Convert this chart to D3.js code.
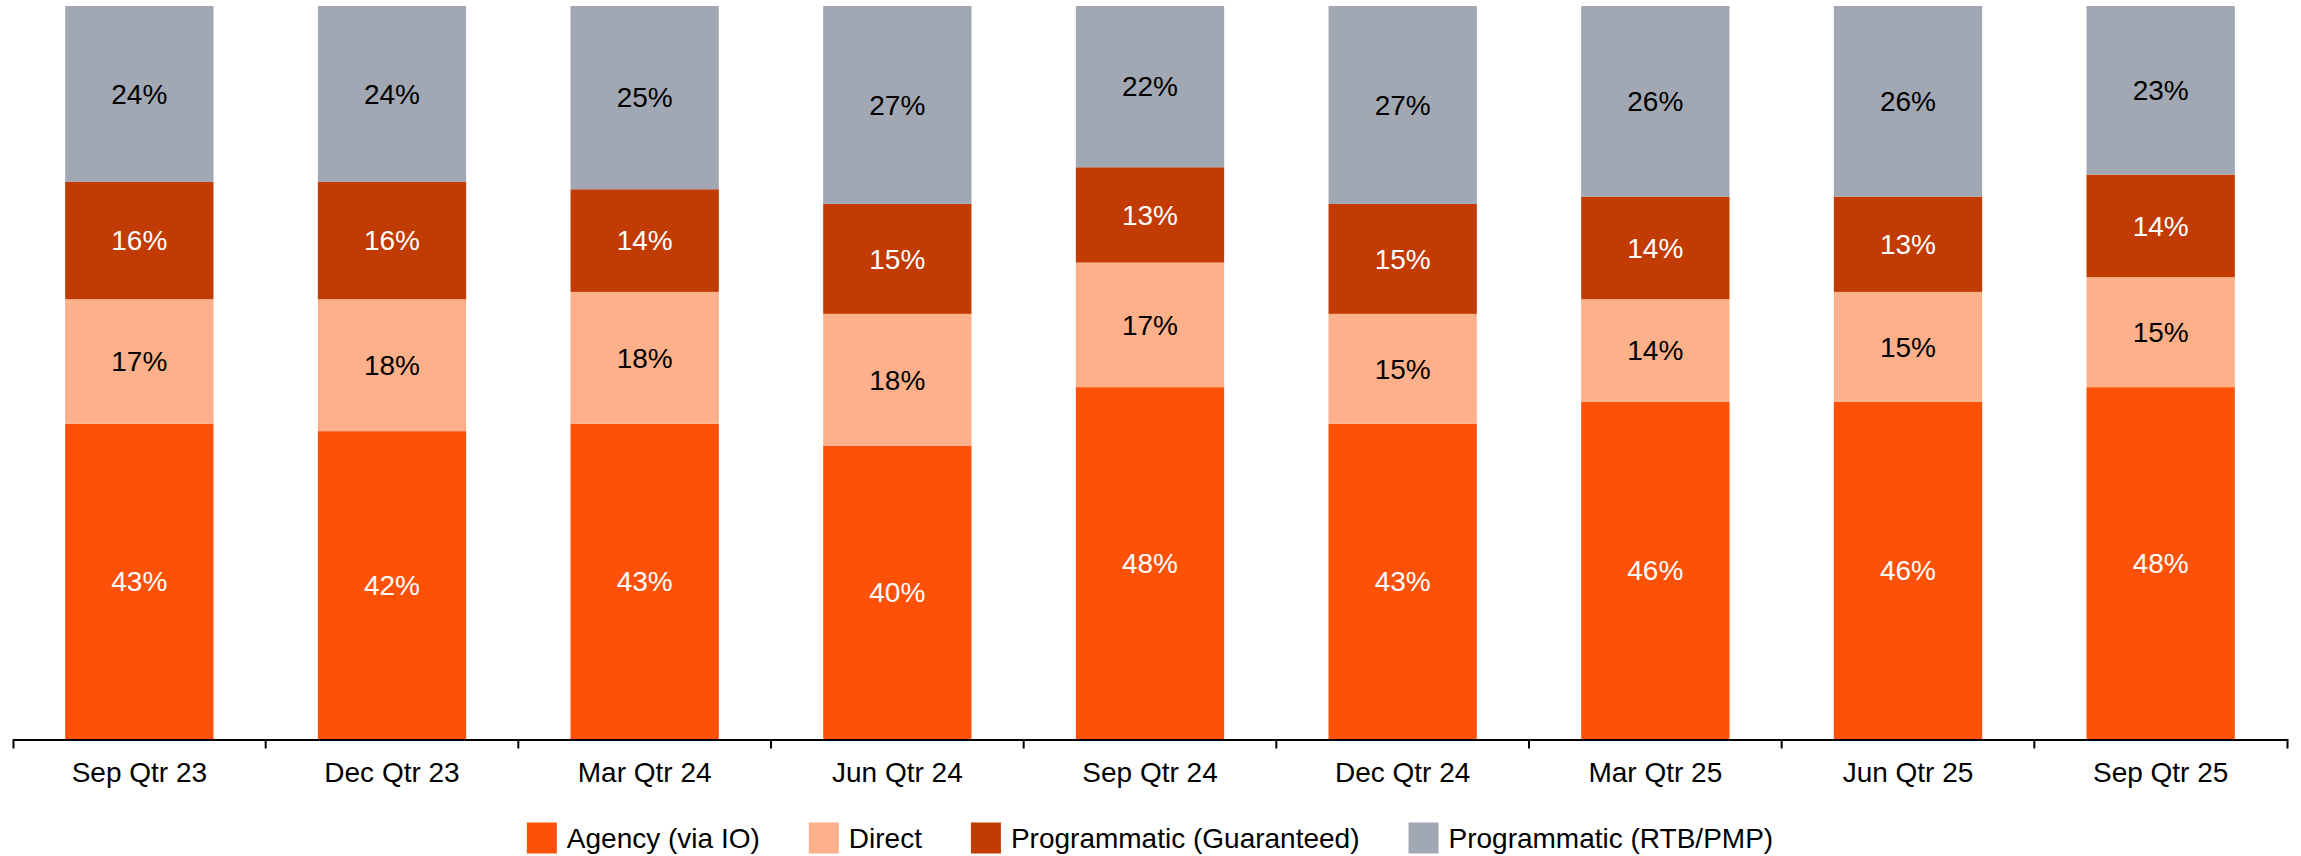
<!DOCTYPE html>
<html>
<head>
<meta charset="utf-8">
<script src="https://cdn.jsdelivr.net/npm/d3@7"></script>
<style>
  html, body { margin: 0; padding: 0; background: #fff; }
  svg { display: block; font-family: "Liberation Sans", Arial, sans-serif; }
</style>
</head>
<body>
<svg id="chart" width="2301" height="856"></svg>
<script>
const categories = ["Sep Qtr 23","Dec Qtr 23","Mar Qtr 24","Jun Qtr 24","Sep Qtr 24","Dec Qtr 24","Mar Qtr 25","Jun Qtr 25","Sep Qtr 25"];
const seriesNames = ["Agency (via IO)","Direct","Programmatic (Guaranteed)","Programmatic (RTB/PMP)"];
const agency     = [43, 42, 43, 40, 48, 43, 46, 46, 48];
const direct     = [17, 18, 18, 18, 17, 15, 14, 15, 15];
const guaranteed = [16, 16, 14, 15, 13, 15, 14, 13, 14];
const rtb        = [24, 24, 25, 27, 22, 27, 26, 26, 23];
const colors     = ["#fd5108", "#feb08a", "#c23b02", "#a1a8b3"];
const labelColors = ["#ffffff", "#000000", "#ffffff", "#000000"];

(function () {
const svg = d3.select("#chart");
const mLeft = 13, mRight = 2287, mTop = 6, mBottom = 739;

const table = categories.map((c, i) => ({
  cat: c,
  [seriesNames[0]]: agency[i],
  [seriesNames[1]]: direct[i],
  [seriesNames[2]]: guaranteed[i],
  [seriesNames[3]]: rtb[i]
}));
const stacked = d3.stack().keys(seriesNames)(table);

const x = d3.scaleBand().domain(categories).range([mLeft, mRight])
  .paddingInner(0.413).paddingOuter(0.2065);
const y = d3.scaleLinear().domain([0, 100]).range([mBottom, mTop]);

const layers = svg.append("g").selectAll("g").data(stacked).join("g")
  .attr("fill", (d, i) => colors[i]);

layers.selectAll("rect").data(d => d).join("rect")
  .attr("x", d => x(d.data.cat))
  .attr("y", d => y(d[1]))
  .attr("width", x.bandwidth())
  .attr("height", d => y(d[0]) - y(d[1]));

layers.each(function(layer, li) {
  d3.select(this).selectAll("text").data(layer).join("text")
    .attr("x", d => x(d.data.cat) + x.bandwidth() / 2)
    .attr("y", d => (y(d[0]) + y(d[1])) / 2)
    .attr("dy", "0.35em")
    .attr("text-anchor", "middle")
    .attr("font-size", 28)
    .attr("fill", labelColors[li])
    .text(d => (d[1] - d[0]) + "%");
});

// Axis
const axis = d3.axisBottom(x).tickSize(0).tickSizeOuter(9).tickPadding(23);
const gx = svg.append("g").attr("transform", `translate(0,${mBottom + 0.5})`).call(axis);
gx.select(".domain").attr("stroke", "#000").attr("stroke-width", 2);
gx.selectAll(".tick text").attr("font-size", 28).attr("fill", "#000")
  .attr("font-family", "Liberation Sans, Arial, sans-serif");
const step = x.step();
gx.selectAll(".btick").data(categories.slice(1)).join("line")
  .attr("class", "btick")
  .attr("x1", d => x(d) - step * x.paddingInner() / 2)
  .attr("x2", d => x(d) - step * x.paddingInner() / 2)
  .attr("y1", 0).attr("y2", 9)
  .attr("stroke", "#000").attr("stroke-width", 2);

// Legend
const legend = svg.append("g");
const sw = 30, gapText = 10, gapItem = 49, legY = 838;
let cursor = 0;
seriesNames.forEach((name, i) => {
  const g = legend.append("g");
  g.append("rect").attr("x", 0).attr("y", legY - 15.5).attr("width", sw).attr("height", 31).attr("fill", colors[i]);
  const t = g.append("text").attr("x", sw + gapText).attr("y", legY).attr("dy", "0.35em")
    .attr("font-size", 28).attr("fill", "#000").text(name);
  const w = t.node().getComputedTextLength();
  g.attr("transform", `translate(${cursor},0)`);
  cursor += sw + gapText + w + gapItem;
});
const totalW = cursor - gapItem;
legend.attr("transform", `translate(${(mLeft + mRight) / 2 - totalW / 2},0)`);
})();
</script>
</body>
</html>
